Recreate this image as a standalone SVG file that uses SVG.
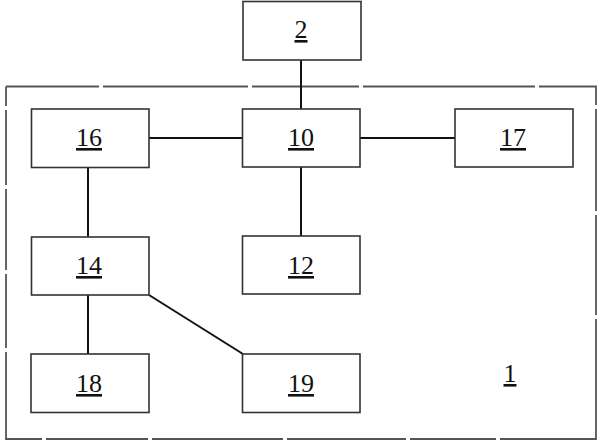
<svg xmlns="http://www.w3.org/2000/svg" width="600" height="443" viewBox="0 0 600 443">
<style>
.box{fill:#fff;stroke:#333;stroke-width:1.6}
.lbl{font-family:"Liberation Serif","DejaVu Serif",serif;font-size:26px;fill:#111;text-anchor:middle;text-decoration:underline}
.con{stroke:#111;stroke-width:2;fill:none}
.frame{stroke:#555;stroke-width:1.8;fill:none}
</style>
<rect width="600" height="443" fill="#fff"/>
<g id="frame1">
<path class="frame" d="M6,86.5 H99 M103,86.5 H248 M252,86.5 H359 M363,86.5 H535 M539,86.5 H596 V105 M596,109 V211 M596,215 V315 M596,319 V439 H500 M496,439 H410 M406,439 H287 M283,439 H152 M148,439 H46 M42,439 H6 V352 M6,348 V274 M6,270 V189 M6,185 V110 M6,106 V86.5"/>
<text class="lbl" x="510" y="382">1</text>
</g>
<g id="connectors">
<line class="con" x1="301" y1="60" x2="301" y2="109"/>
<line class="con" x1="149" y1="138" x2="242" y2="138"/>
<line class="con" x1="360" y1="138" x2="455" y2="138"/>
<line class="con" x1="301" y1="167" x2="301" y2="236"/>
<line class="con" x1="88" y1="167" x2="88" y2="237"/>
<line class="con" x1="88" y1="295" x2="88" y2="354"/>
<line class="con" x1="149" y1="295" x2="243" y2="354"/>
</g>
<g id="n2"><rect class="box" x="243" y="1.5" width="118" height="58.5"/><text class="lbl" x="301" y="38">2</text></g>
<g id="n10"><rect class="box" x="242.5" y="109" width="117.5" height="58"/><text class="lbl" x="301" y="146">10</text></g>
<g id="n16"><rect class="box" x="31.5" y="109" width="117.5" height="58.5"/><text class="lbl" x="89" y="146">16</text></g>
<g id="n17"><rect class="box" x="455" y="109" width="118" height="58"/><text class="lbl" x="513" y="146">17</text></g>
<g id="n14"><rect class="box" x="31.5" y="237" width="117.5" height="58"/><text class="lbl" x="89" y="274">14</text></g>
<g id="n12"><rect class="box" x="242.5" y="236" width="117.5" height="58"/><text class="lbl" x="301" y="274">12</text></g>
<g id="n18"><rect class="box" x="31" y="354" width="118" height="58.5"/><text class="lbl" x="89" y="392">18</text></g>
<g id="n19"><rect class="box" x="242.5" y="354" width="117.5" height="58.5"/><text class="lbl" x="301" y="392">19</text></g>
</svg>
